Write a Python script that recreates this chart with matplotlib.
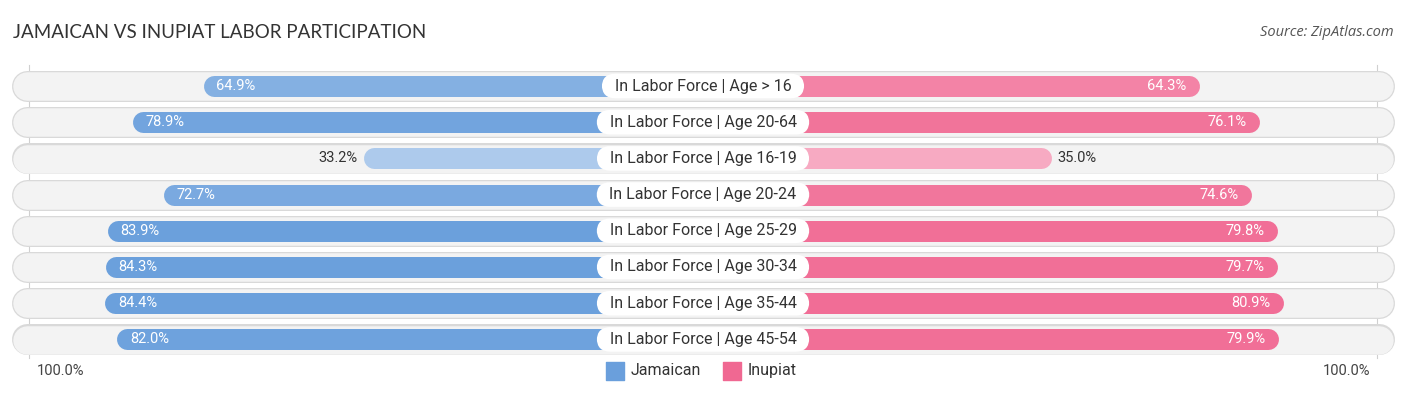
import matplotlib.pyplot as plt
import matplotlib.colors as mcolors
import numpy as np

categories = [
    "In Labor Force | Age > 16",
    "In Labor Force | Age 20-64",
    "In Labor Force | Age 16-19",
    "In Labor Force | Age 20-24",
    "In Labor Force | Age 25-29",
    "In Labor Force | Age 30-34",
    "In Labor Force | Age 35-44",
    "In Labor Force | Age 45-54",
]
jamaican = [64.9, 78.9, 33.2, 72.7, 83.9, 84.3, 84.4, 82.0]
inupiat = [64.3, 76.1, 35.0, 74.6, 79.8, 79.7, 80.9, 79.9]
series_names = ["Jamaican", "Inupiat"]

BLUE = "#6a9fdc"
PINK = "#f06892"

W, H = 1406, 395
PX = 5.05            # pixels per percent
OFFSET = 172 / PX    # gap from centre to zero of each side
ROW_PX = 36.2
ROW0_PX = 86


def shade(color, v):
    # lighter for smaller values
    t = np.clip((v - 30) / 55, 0, 1)
    a = 0.52 + 0.48 * t
    c = np.array(mcolors.to_rgb(color))
    return tuple(1 - a * (1 - c))


def px_lw(px):
    return px * 72 / 100


fig = plt.figure(figsize=(W / 100, H / 100), dpi=100)
ax = fig.add_axes([0, 0, 1, 1])
ax.set_xlim(-W / 2 / PX, W / 2 / PX)
ax.set_ylim((H - ROW0_PX) / ROW_PX, -ROW0_PX / ROW_PX)
ax.axis("off")

n = len(categories)
y = np.arange(n)

# faint guide lines at 100%
for s in (-1, 1):
    ax.plot([s * 133.4] * 2, [-0.58, n - 0.5], color="#d0d0d0", lw=0.8, zorder=0)

bg_half = (W / 2 - 12) / PX
bg_r = 15 / PX
bar_r = 10.5 / PX

for i in range(n):
    # background pill
    ax.plot([-bg_half + bg_r, bg_half - bg_r], [y[i], y[i]], color="#d9d9d9",
            lw=px_lw(31), solid_capstyle="round", zorder=1)
    ax.plot([-bg_half + bg_r, bg_half - bg_r], [y[i] + 0.005, y[i] + 0.005], color="#f3f3f3",
            lw=px_lw(28.5), solid_capstyle="round", zorder=1.1)

    jv, iv = jamaican[i], inupiat[i]
    left_end = -(OFFSET + jv)
    right_end = OFFSET + iv
    ax.plot([left_end + bar_r, 0], [y[i], y[i]], color=shade(BLUE, jv),
            lw=px_lw(21), solid_capstyle="round", zorder=2)
    ax.plot([0, right_end - bar_r], [y[i], y[i]], color=shade(PINK, iv),
            lw=px_lw(21), solid_capstyle="round", zorder=2)

    if jv > 45:
        ax.text(left_end + 13 / PX, y[i], f"{jv:.1f}%", ha="left", va="center",
                color="white", fontsize=10.5, family="Roboto", zorder=4)
    else:
        ax.text(left_end - 6 / PX, y[i], f"{jv:.1f}%", ha="right", va="center",
                color="#333333", fontsize=10.5, family="Roboto", zorder=4)
    if iv > 45:
        ax.text(right_end - 13 / PX, y[i], f"{iv:.1f}%", ha="right", va="center",
                color="white", fontsize=10.5, family="Roboto", zorder=4)
    else:
        ax.text(right_end + 6 / PX, y[i], f"{iv:.1f}%", ha="left", va="center",
                color="#333333", fontsize=10.5, family="Roboto", zorder=4)

    ax.text(0, y[i], "  " + categories[i] + "  ", ha="center", va="center", fontsize=11.5,
            family="Roboto", color="#333333", zorder=5,
            bbox=dict(boxstyle="round,pad=0.3,rounding_size=0.85", fc="white", ec="none"))

# axis end labels
leg_y = n - 0.13
ax.text(-(W / 2 - 37) / PX, leg_y, "100.0%", ha="left", va="center",
        fontsize=10.5, family="Roboto", color="#444444")
ax.text((W / 2 - 36) / PX, leg_y, "100.0%", ha="right", va="center",
        fontsize=10.5, family="Roboto", color="#444444")

# legend
for name, col, x0 in zip(series_names, [BLUE, PINK], [-97 / PX, 20 / PX]):
    ax.scatter([x0 + 9 / PX], [leg_y], marker="s", s=160, color=col, zorder=5)
    ax.text(x0 + 25 / PX, leg_y, name, ha="left", va="center", fontsize=11.5,
            family="Roboto", color="#333333")

fig.text(13 / W, 1 - 33 / H, "JAMAICAN VS INUPIAT LABOR PARTICIPATION", ha="left",
         va="center", fontsize=13.5, color="#333333", family="Lato")
fig.text(1 - 12 / W, 1 - 33 / H, "Source: ZipAtlas.com", ha="right", va="center",
         fontsize=10.5, color="#555555", style="italic", family="Open Sans")

fig.savefig("out.png", dpi=100)
